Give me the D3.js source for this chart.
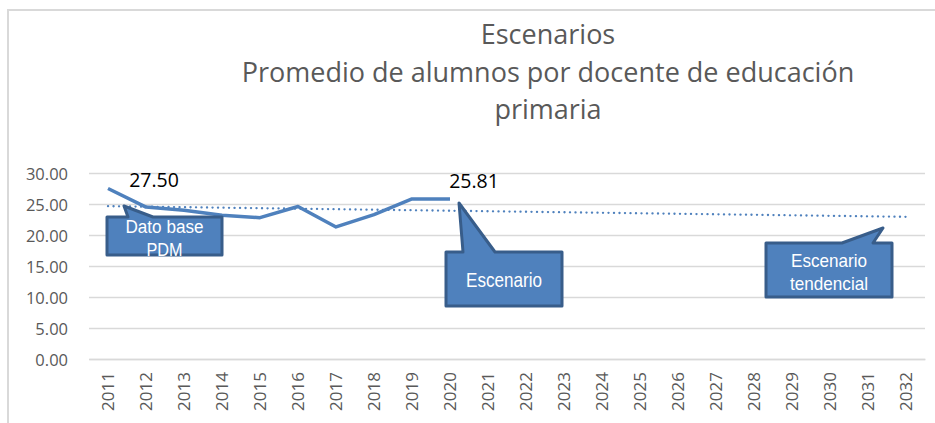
<!DOCTYPE html>
<html>
<head>
<meta charset="utf-8">
<script src="https://cdn.jsdelivr.net/npm/d3@7"></script>
<style>
  html, body { margin: 0; padding: 0; background: #fff; }
  svg { display: block; }
</style>
</head>
<body>
<svg id="chart" width="935" height="423"></svg>
<script>
// Years shown on the category axis
const years = ["2011","2012","2013","2014","2015","2016","2017","2018","2019","2020",
  "2021","2022","2023","2024","2025","2026","2027","2028","2029","2030","2031","2032"];
// Observed average of pupils per primary teacher
const observedYears = ["2011","2012","2013","2014","2015","2016","2017","2018","2019","2020"];
const observedValues = [27.50, 24.50, 24.00, 23.20, 22.80, 24.60, 21.30, 23.30, 25.81, 25.81];
// Linear trend, first and last year
const trendYears = ["2011", "2032"];
const trendValues = [24.65, 22.93];
// Value axis ticks
const yTicks = [0, 5, 10, 15, 20, 25, 30];
// Labelled points
const labelYears = ["2011", "2020"];
const labelValues = [27.50, 25.81];
// Title lines
const titleLines = ["Escenarios", "Promedio de alumnos por docente de educación", "primaria"];

const svg = d3.select("#chart");
const W = 935, H = 423;
const plot = { left: 89, right: 925, top: 173, bottom: 359 };
const axisColor = "#595959";
const gridColor = "#d9d9d9";
const lineColor = "#4f81bd";
const font = "'Open Sans', 'Noto Sans', sans-serif";

// Outer frame (top and left edges)
svg.append("line").attr("x1", 8).attr("x2", W).attr("y1", 10).attr("y2", 10)
  .attr("stroke", gridColor).attr("stroke-width", 2);
svg.append("line").attr("x1", 8).attr("x2", 8).attr("y1", 9).attr("y2", H)
  .attr("stroke", gridColor).attr("stroke-width", 2);

const x = d3.scaleBand().domain(years).range([plot.left, plot.right]);
const y = d3.scaleLinear().domain([0, 30]).range([plot.bottom, plot.top]);
const cx = d => x(d) + x.bandwidth() / 2;

// Title
svg.append("g").selectAll("text").data(titleLines).join("text")
  .attr("x", 548).attr("y", (d, i) => [44, 82, 119][i])
  .attr("text-anchor", "middle")
  .attr("font-family", font).attr("font-size", 27)
  .attr("fill", axisColor)
  .text(d => d);

// Horizontal gridlines and value axis
const yAxis = d3.axisLeft(y).tickValues(yTicks).tickFormat(d3.format(".2f"))
  .tickSize(-(plot.right - plot.left)).tickPadding(21);
const gy = svg.append("g").attr("transform", `translate(${plot.left},0)`).call(yAxis);
gy.select(".domain").remove();
gy.selectAll(".tick line").attr("stroke", gridColor).attr("stroke-width", 1.3);
gy.selectAll(".tick text").attr("font-family", font).attr("font-size", 16.5)
  .attr("fill", axisColor).attr("dy", "0.4em");

// Category axis
const xAxis = d3.axisBottom(x).tickSize(0).tickPadding(0);
const gx = svg.append("g").attr("transform", `translate(0,${plot.bottom})`).call(xAxis);
gx.select(".domain").attr("stroke", gridColor).attr("stroke-width", 1.3);
gx.selectAll(".tick text")
  .attr("font-family", font).attr("font-size", 17).attr("fill", axisColor)
  .attr("text-anchor", "end")
  .attr("transform", "rotate(-90)")
  .attr("x", -13).attr("y", 0).attr("dy", "0.36em");

// Trend line (dotted)
svg.append("path")
  .datum(trendYears.map((d, i) => [d, trendValues[i]]))
  .attr("d", d3.line().x(d => cx(d[0])).y(d => y(d[1])))
  .attr("fill", "none").attr("stroke", lineColor).attr("stroke-width", 2.3)
  .attr("stroke-dasharray", "0.1 5.4").attr("stroke-linecap", "round");

// Observed series
svg.append("path")
  .datum(observedYears.map((d, i) => [d, observedValues[i]]))
  .attr("d", d3.line().x(d => cx(d[0])).y(d => y(d[1])))
  .attr("fill", "none").attr("stroke", lineColor).attr("stroke-width", 3.5)
  .attr("stroke-linejoin", "round");

// Value labels
svg.append("g").selectAll("text").data(labelYears).join("text")
  .attr("x", (d, i) => cx(d) + (i === 0 ? 46 : 24))
  .attr("y", (d, i) => y(labelValues[i]) - (i === 0 ? 2 : 11))
  .attr("text-anchor", "middle")
  .attr("font-family", font).attr("font-size", 19.5).attr("fill", "#000")
  .text((d, i) => labelValues[i].toFixed(2));

// Callouts: rectangle with a pointer tail
const calloutFont = "'Liberation Sans Narrow', 'Liberation Sans', Arial, sans-serif";
const callouts = [
  { box: [107, 217, 115, 38], tip: [124, 206], base: [128, 153], size: 18,
    lines: [["Dato base", 233, 78], ["PDM", 255.5, 36]] },
  { box: [446, 252, 116, 54], tip: [459, 203], base: [463, 495], size: 21,
    lines: [["Escenario", 287, 76]] },
  { box: [766, 243, 126, 54], tip: [883, 228], base: [842, 873], size: 18.5,
    lines: [["Escenario", 267, 76], ["tendencial", 290, 78]] }
];
const defs = svg.append("defs");
callouts.forEach((c, k) => {
  const [bx, by, bw, bh] = c.box;
  const p = d3.path();
  p.moveTo(bx, by);
  p.lineTo(c.base[0], by);
  p.lineTo(c.tip[0], c.tip[1]);
  p.lineTo(c.base[1], by);
  p.lineTo(bx + bw, by);
  p.lineTo(bx + bw, by + bh);
  p.lineTo(bx, by + bh);
  p.closePath();
  svg.append("path").attr("d", p.toString())
    .attr("fill", "#4f81bd").attr("stroke", "#385d8a").attr("stroke-width", 3)
    .attr("stroke-linejoin", "round");
  defs.append("clipPath").attr("id", "callout-clip-" + k)
    .append("rect").attr("x", bx).attr("y", by).attr("width", bw).attr("height", bh + 1.5);
  const g = svg.append("g").attr("clip-path", `url(#callout-clip-${k})`);
  c.lines.forEach(([t, ty, len]) => {
    g.append("text").attr("x", bx + bw / 2).attr("y", ty)
      .attr("text-anchor", "middle")
      .attr("font-family", calloutFont).attr("font-size", c.size)
      .attr("textLength", len).attr("lengthAdjust", "spacingAndGlyphs")
      .attr("fill", "#fff").text(t);
  });
});
</script>
</body>
</html>
